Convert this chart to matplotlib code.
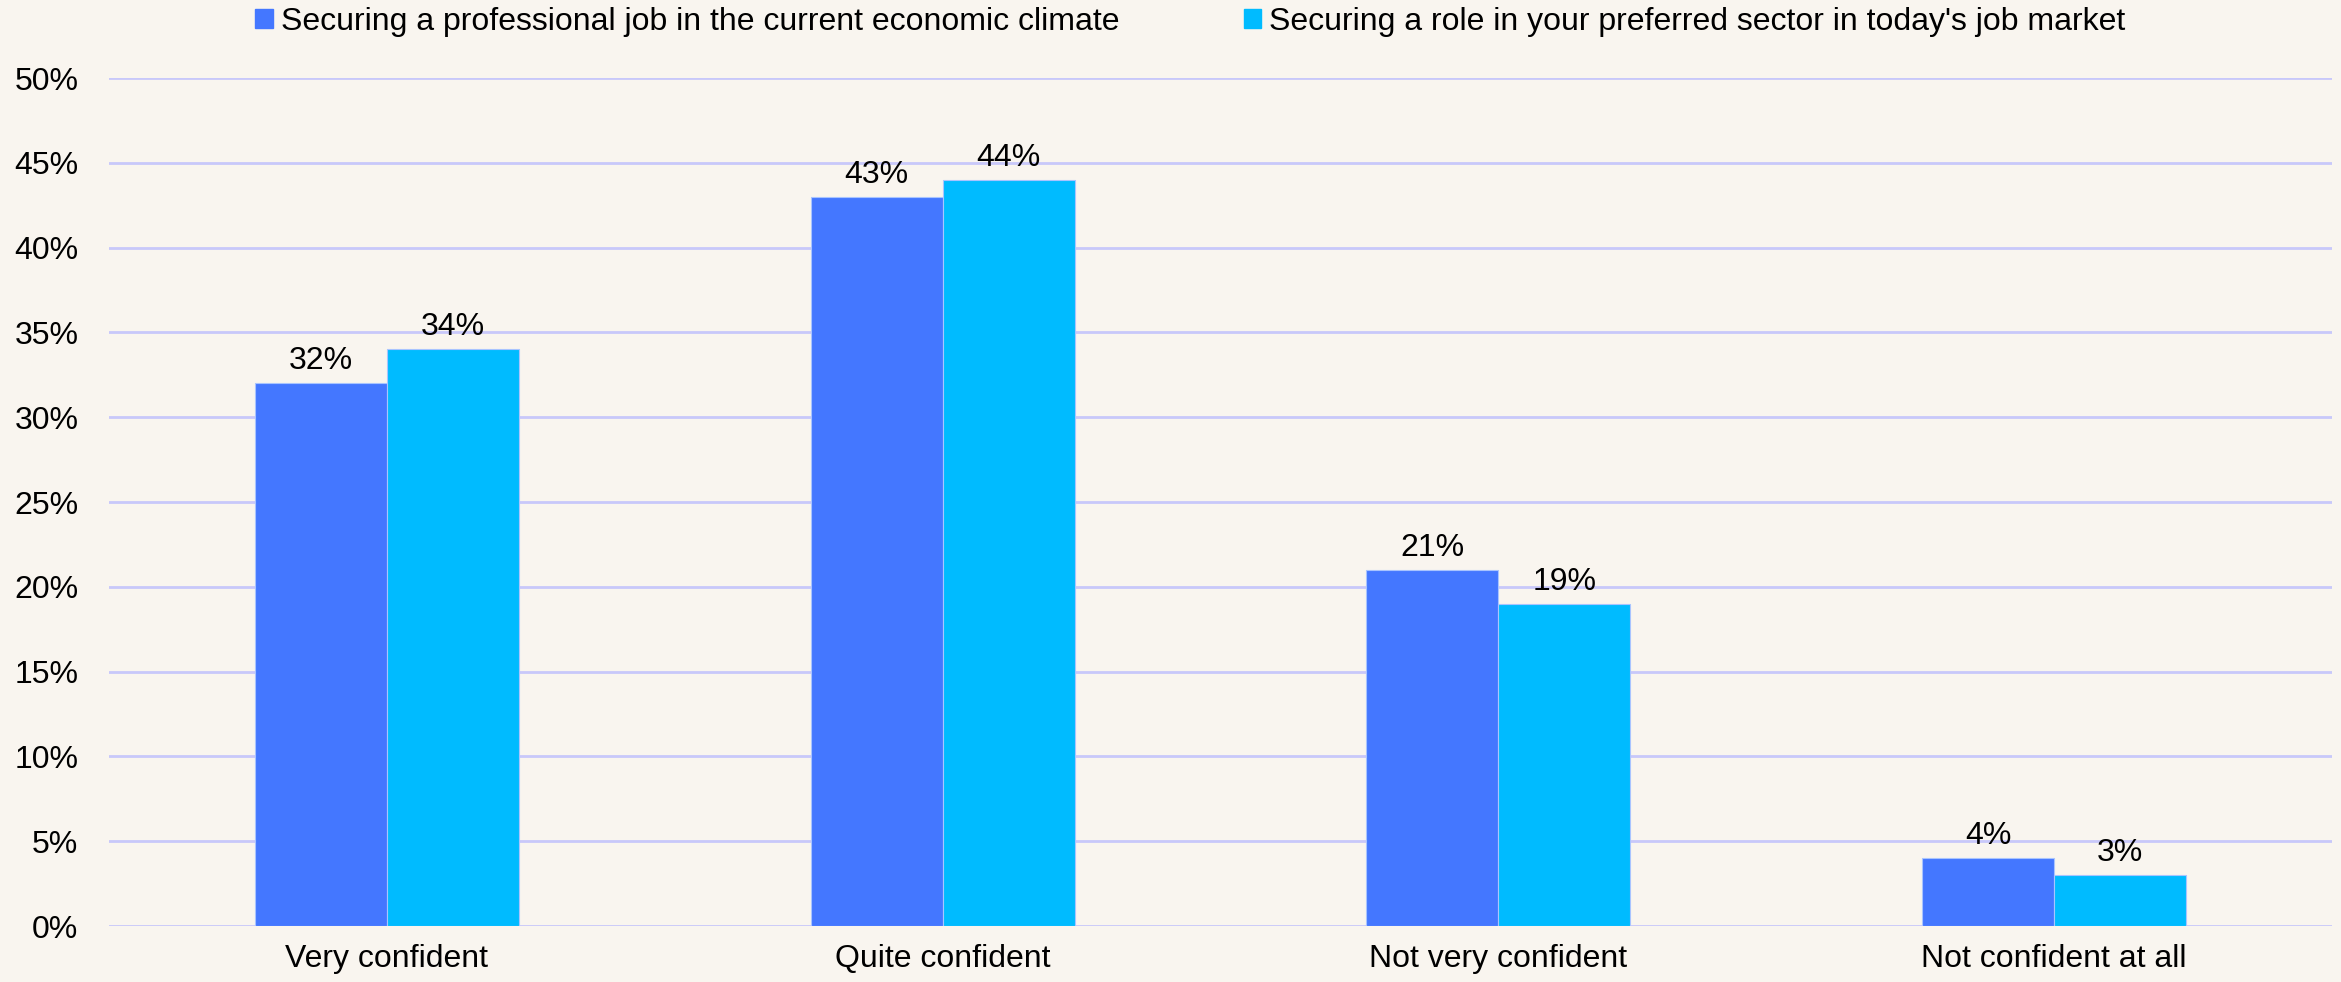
import matplotlib.pyplot as plt
import matplotlib.patches as mpatches
import numpy as np

categories = ["Very confident", "Quite confident", "Not very confident", "Not confident at all"]
series_names = ["Securing a professional job in the current economic climate",
                "Securing a role in your preferred sector in today's job market"]
professional_job = [32, 43, 21, 4]
preferred_sector = [34, 44, 19, 3]
y_ticks = [0, 5, 10, 15, 20, 25, 30, 35, 40, 45, 50]

colors = ['#4477FF', '#00BBFF']
bg = '#F9F5EF'

plt.rcParams['font.family'] = ['Liberation Sans', 'DejaVu Sans']
fs = 23

fig = plt.figure(figsize=(23.41, 9.82), dpi=100, facecolor=bg)
ax = fig.add_axes([109 / 2341, 1 - 926 / 982, (2332 - 109) / 2341, (926 - 78) / 982])
ax.set_facecolor(bg)

x = np.arange(len(categories))
w = 0.2375
for vals, off, c in [(professional_job, -w / 2, colors[0]), (preferred_sector, w / 2, colors[1])]:
    bars = ax.bar(x + off, vals, width=w, color=c, edgecolor='#A9C4FF', linewidth=0.8, zorder=3)
    for b, v in zip(bars, vals):
        ax.annotate(f"{v}%", (b.get_x() + b.get_width() / 2, v), xytext=(0, 5),
                    textcoords='offset points', ha='center', va='bottom', fontsize=fs, zorder=4)

ax.set_xlim(-0.5, len(categories) - 0.5)
ax.set_ylim(0, 50)
ax.set_yticks(y_ticks)
ax.set_yticklabels([f"{t}%" for t in y_ticks])
ax.set_xticks(x)
ax.set_xticklabels(categories)
ax.tick_params(axis='both', length=0, labelsize=fs)
ax.tick_params(axis='y', pad=22)
ax.tick_params(axis='x', pad=13)
ax.grid(axis='y', color='#C8C8FA', linewidth=2, zorder=0)
for s in ax.spines.values():
    s.set_visible(False)

handles = [mpatches.Patch(color=c, label=n) for c, n in zip(colors, series_names)]
fig.legend(handles=handles, loc='center left', bbox_to_anchor=(255 / 2341, 1 - 22 / 982),
           ncol=2, frameon=False, fontsize=fs, handlelength=0.55, handleheight=0.55,
           handletextpad=0.25, columnspacing=3.9, borderpad=0, borderaxespad=0)

fig.savefig('out.png', dpi=100, facecolor=bg)
